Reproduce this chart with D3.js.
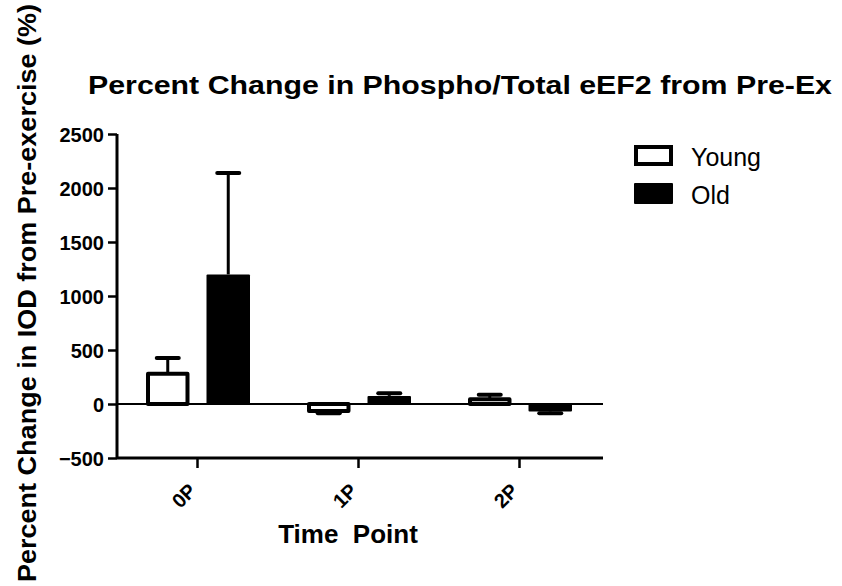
<!DOCTYPE html>
<html>
<head>
<meta charset="utf-8">
<script src="https://cdn.jsdelivr.net/npm/d3@7"></script>
<style>
  body { margin: 0; background: #fff; }
  svg { display: block; }
  text { font-family: Arial, "Liberation Sans", sans-serif; fill: #000; }
</style>
</head>
<body>
<svg id="chart" width="842" height="586"></svg>
<script>
const categories = ["0P", "1P", "2P"];
const seriesNames = ["Young", "Old"];
const youngMeans = [280, -65, 45];
const youngErr = [145, 20, 40];
const oldMeans = [1200, 75, -70];
const oldErr = [940, 25, 15];
const yTicks = [-500, 0, 500, 1000, 1500, 2000, 2500];

(function () {
const svg = d3.select("#chart");
const mLeft = 117, mRight = 600, mTop = 134, mBottom = 458;

const x = d3.scaleBand().domain(categories).range([mLeft, mRight]);
const x1 = d3.scaleBand().domain(seriesNames).range([29, 133]).paddingInner(0.281);
const y = d3.scaleLinear().domain([-500, 2500]).range([mBottom, mTop]);

const data = [];
categories.forEach((c, i) => {
  data.push({cat: c, s: "Young", v: youngMeans[i], e: youngErr[i]});
  data.push({cat: c, s: "Old", v: oldMeans[i], e: oldErr[i]});
});

const g = svg.append("g");
data.forEach(d => {
  const bx = x(d.cat) + x1(d.s);
  const bw = x1.bandwidth();
  const tipV = d.v >= 0 ? d.v + d.e : d.v - d.e;
  const cx = bx + bw / 2;
  g.append("line")
    .attr("x1", cx).attr("x2", cx)
    .attr("y1", y(d.v)).attr("y2", y(tipV))
    .attr("stroke", "#000").attr("stroke-width", 3);
  g.append("line")
    .attr("x1", cx - 11).attr("x2", cx + 11)
    .attr("y1", y(tipV)).attr("y2", y(tipV))
    .attr("stroke", "#000").attr("stroke-width", 4).attr("stroke-linecap", "round");
  const y0 = y(Math.max(0, d.v)), y1v = y(Math.min(0, d.v));
  if (d.s === "Young") {
    g.append("rect")
      .attr("x", bx + 2).attr("y", y0)
      .attr("width", bw - 4).attr("height", Math.max(0, y1v - y0))
      .attr("fill", "#fff").attr("stroke", "#000").attr("stroke-width", 4)
      .attr("stroke-linejoin", "round");
  } else {
    g.append("rect")
      .attr("x", bx).attr("y", y0)
      .attr("width", bw).attr("height", Math.max(0, y1v - y0))
      .attr("fill", "#000").attr("rx", 1);
  }
});

svg.append("line")
  .attr("x1", mLeft).attr("x2", 603)
  .attr("y1", y(0)).attr("y2", y(0))
  .attr("stroke", "#000").attr("stroke-width", 2);

const yAxis = svg.append("g").attr("transform", `translate(${mLeft},0)`)
  .call(d3.axisLeft(y).tickValues(yTicks).tickSize(9).tickPadding(4).tickFormat(d3.format("d")));
yAxis.select(".domain").attr("stroke-width", 3).attr("d", `M0,${mTop}V${mBottom}`);
yAxis.selectAll(".tick line").attr("stroke-width", 2.5);
yAxis.selectAll(".tick text")
  .attr("font-size", 20).attr("font-weight", "bold")
  .attr("font-family", "Arial, 'Liberation Sans', sans-serif").attr("dy", "0.36em");

const xAxis = svg.append("g").attr("transform", `translate(0,${mBottom})`)
  .call(d3.axisBottom(x).tickSize(10).tickSizeOuter(0));
xAxis.select(".domain").attr("stroke-width", 3).attr("d", `M${mLeft},0H${603}`);
xAxis.selectAll(".tick line").attr("stroke-width", 2.5);
xAxis.selectAll(".tick text")
  .attr("font-size", 20).attr("font-weight", "bold")
  .attr("font-family", "Arial, 'Liberation Sans', sans-serif")
  .attr("text-anchor", "end")
  .attr("y", 0).attr("dy", 0)
  .attr("transform", "translate(0,34) rotate(-45)");

svg.append("text")
  .attr("x", 88).attr("y", 94)
  .attr("font-size", 26).attr("font-weight", "bold")
  .attr("textLength", 744).attr("lengthAdjust", "spacingAndGlyphs")
  .text("Percent Change in Phospho/Total eEF2 from Pre-Ex");

svg.append("text")
  .attr("x", 348).attr("y", 543)
  .attr("text-anchor", "middle")
  .attr("font-size", 26).attr("font-weight", "bold")
  .style("white-space", "pre")
  .text("Time  Point");

svg.append("text")
  .attr("transform", "translate(36,582) rotate(-90)")
  .attr("x", 0).attr("y", 0)
  .attr("font-size", 26).attr("font-weight", "bold")
  .attr("textLength", 578).attr("lengthAdjust", "spacingAndGlyphs")
  .text("Percent Change in IOD from Pre-exercise (%)");

const legend = svg.append("g");
seriesNames.forEach((s, i) => {
  const ly = 145 + i * 38;
  if (s === "Young") {
    legend.append("rect").attr("x", 636).attr("y", ly + 2).attr("width", 35).attr("height", 17)
      .attr("fill", "#fff").attr("stroke", "#000").attr("stroke-width", 4);
  } else {
    legend.append("rect").attr("x", 634).attr("y", ly).attr("width", 39).attr("height", 21)
      .attr("fill", "#000").attr("rx", 1);
  }
  legend.append("text").attr("x", 691).attr("y", ly + 21)
    .attr("font-size", 25).text(s);
});
})();
</script>
</body>
</html>
